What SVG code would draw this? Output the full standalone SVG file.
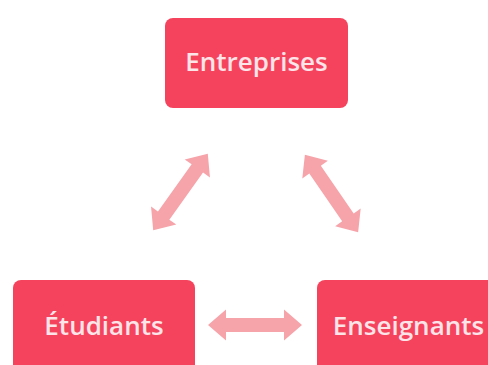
<svg xmlns="http://www.w3.org/2000/svg" width="488" height="365" viewBox="0 0 488 365">
<defs>
<style>
.box{fill:#f5435d;}
.lbl{font-family:"Open Sans","Noto Sans","Liberation Sans",sans-serif;font-size:26px;font-weight:600;fill:#fde4e8;text-anchor:middle;}
.arr{fill:#f6a4aa;}
</style>
<path id="dbl" d="M-47,0 L-29,-15.5 L-29,-7 L29,-7 L29,-15.5 L47,0 L29,15.5 L29,7 L-29,7 L-29,15.5 Z"/>
</defs>
<rect width="488" height="365" fill="#ffffff"/>
<g id="connectors">
<use href="#dbl" class="arr" transform="translate(180.5,192) rotate(-54.5)"/>
<use href="#dbl" class="arr" transform="translate(331.5,193.5) rotate(55.5)"/>
<use href="#dbl" class="arr" transform="translate(255,325)"/>
</g>
<g id="entreprises">
<rect class="box" x="165" y="18" width="183" height="90" rx="8"/>
<text class="lbl" x="256.5" y="71">Entreprises</text>
</g>
<g id="etudiants">
<rect class="box" x="13" y="280" width="182" height="95" rx="8"/>
<text class="lbl" x="104" y="335">Étudiants</text>
</g>
<g id="enseignants">
<rect class="box" x="317" y="280" width="182" height="95" rx="8"/>
<text class="lbl" x="408.5" y="335">Enseignants</text>
</g>
</svg>
